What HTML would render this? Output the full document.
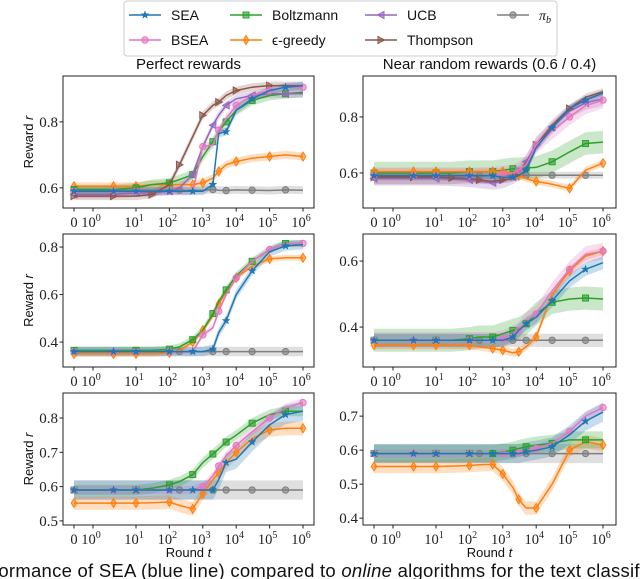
<!DOCTYPE html>
<html><head><meta charset="utf-8">
<style>
body{margin:0;background:#fff;width:640px;height:579px;overflow:hidden;position:relative}
svg{position:absolute;left:0;top:0}
.capwrap{position:absolute;left:0;top:560px;width:640px;height:19px;overflow:hidden}
.cap{position:absolute;left:-7px;top:0;white-space:nowrap;font-family:"Liberation Sans",sans-serif;font-size:18.5px;letter-spacing:0.25px;color:#111}
</style></head>
<body>
<svg id="chart" width="640" height="579"></svg>
<div class="capwrap"><div class="cap">formance of SEA (blue line) compared to <i>online</i> algorithms for the text classification</div></div>
<script>
// x grid (rounds t)
const T = [0,1,3,10,30,100,200,500,1000,2000,3000,5000,1e4,3e4,1e5,3e5,1e6];
const seriesNames = ["SEA","BSEA","Boltzmann","e-greedy","UCB","Thompson","pi_b"];
// Panel 1: perfect rewards, top
const p1_sea  = [0.59,0.59,0.59,0.59,0.59,0.59,0.59,0.59,0.59,0.61,0.765,0.77,0.835,0.87,0.895,0.905,0.91];
const p1_bsea = [0.59,0.59,0.59,0.59,0.59,0.59,0.59,0.59,0.725,0.73,0.775,0.81,0.85,0.88,0.895,0.905,0.905];
const p1_boltz= [0.595,0.595,0.595,0.6,0.61,0.615,0.625,0.64,0.695,0.74,0.77,0.8,0.835,0.865,0.88,0.885,0.89];
const p1_eps  = [0.605,0.605,0.605,0.605,0.61,0.61,0.61,0.61,0.615,0.63,0.65,0.67,0.68,0.69,0.695,0.7,0.695];
const p1_ucb  = [0.58,0.58,0.58,0.585,0.585,0.59,0.6,0.64,0.725,0.79,0.82,0.85,0.87,0.88,0.885,0.885,0.885];
const p1_thom = [0.575,0.575,0.575,0.575,0.58,0.61,0.67,0.755,0.82,0.85,0.86,0.88,0.895,0.905,0.91,0.91,0.91];
const p1_pib  = [0.593,0.593,0.593,0.593,0.593,0.593,0.593,0.593,0.593,0.595,0.593,0.592,0.594,0.593,0.592,0.594,0.593];
// Panel 2: near random, top
const p2_sea  = [0.59,0.59,0.59,0.59,0.59,0.59,0.59,0.59,0.585,0.585,0.59,0.61,0.69,0.76,0.83,0.86,0.885];
const p2_bsea = [0.59,0.59,0.59,0.59,0.59,0.59,0.59,0.592,0.595,0.6,0.61,0.63,0.7,0.75,0.8,0.84,0.86];
const p2_boltz= [0.6,0.6,0.6,0.6,0.6,0.605,0.605,0.605,0.61,0.615,0.615,0.618,0.62,0.64,0.675,0.705,0.71];
const p2_eps  = [0.605,0.605,0.605,0.605,0.605,0.605,0.605,0.605,0.605,0.6,0.59,0.58,0.57,0.56,0.545,0.61,0.635];
const p2_ucb  = [0.58,0.58,0.58,0.58,0.578,0.575,0.57,0.565,0.57,0.585,0.6,0.64,0.7,0.765,0.82,0.85,0.865];
const p2_thom = [0.585,0.585,0.585,0.585,0.583,0.58,0.575,0.57,0.575,0.58,0.6,0.635,0.7,0.77,0.83,0.87,0.89];
const p2_pib  = [0.592,0.592,0.592,0.592,0.592,0.592,0.592,0.592,0.592,0.592,0.592,0.592,0.592,0.592,0.592,0.592,0.592];
// Panel 3: perfect rewards, middle
const p3_sea  = [0.36,0.36,0.36,0.36,0.36,0.36,0.36,0.36,0.36,0.37,0.44,0.49,0.6,0.7,0.78,0.805,0.81];
const p3_bsea = [0.36,0.36,0.36,0.36,0.36,0.36,0.36,0.36,0.43,0.46,0.53,0.6,0.67,0.74,0.79,0.815,0.815];
const p3_boltz= [0.365,0.365,0.365,0.365,0.365,0.37,0.38,0.41,0.45,0.52,0.57,0.62,0.68,0.74,0.79,0.815,0.815];
const p3_eps  = [0.35,0.35,0.35,0.35,0.35,0.355,0.365,0.4,0.45,0.51,0.56,0.61,0.67,0.72,0.75,0.755,0.755];
const p3_pib  = [0.36,0.36,0.36,0.36,0.36,0.36,0.36,0.36,0.36,0.36,0.36,0.36,0.36,0.36,0.36,0.36,0.36];
// Panel 4: near random, middle
const p4_sea  = [0.36,0.36,0.36,0.36,0.36,0.36,0.36,0.36,0.36,0.37,0.39,0.41,0.43,0.48,0.54,0.575,0.595];
const p4_bsea = [0.36,0.36,0.36,0.36,0.36,0.36,0.36,0.36,0.365,0.38,0.39,0.42,0.44,0.51,0.575,0.62,0.63];
const p4_boltz= [0.36,0.36,0.36,0.36,0.36,0.365,0.37,0.37,0.38,0.39,0.395,0.41,0.44,0.475,0.485,0.488,0.485];
const p4_eps  = [0.345,0.345,0.345,0.345,0.345,0.345,0.34,0.335,0.33,0.322,0.325,0.34,0.37,0.5,0.57,0.615,0.63];
const p4_pib  = [0.36,0.36,0.36,0.36,0.36,0.36,0.36,0.36,0.36,0.36,0.36,0.36,0.36,0.36,0.36,0.36,0.36];
// Panel 5: perfect rewards, bottom
const p5_sea  = [0.59,0.59,0.59,0.59,0.59,0.59,0.59,0.59,0.59,0.59,0.62,0.67,0.68,0.73,0.78,0.81,0.82];
const p5_bsea = [0.59,0.59,0.59,0.59,0.59,0.59,0.59,0.59,0.6,0.63,0.66,0.69,0.72,0.76,0.8,0.83,0.845];
const p5_boltz= [0.59,0.59,0.59,0.59,0.595,0.605,0.615,0.635,0.67,0.695,0.71,0.73,0.75,0.785,0.81,0.82,0.82];
const p5_eps  = [0.552,0.552,0.552,0.552,0.553,0.555,0.545,0.535,0.58,0.62,0.64,0.67,0.7,0.74,0.765,0.77,0.77];
const p5_pib  = [0.59,0.59,0.59,0.59,0.59,0.59,0.59,0.59,0.59,0.59,0.59,0.59,0.59,0.59,0.59,0.59,0.59];
// Panel 6: near random, bottom
const p6_sea  = [0.59,0.59,0.59,0.59,0.59,0.59,0.59,0.59,0.59,0.59,0.59,0.595,0.6,0.61,0.645,0.685,0.712];
const p6_bsea = [0.59,0.59,0.59,0.59,0.59,0.59,0.59,0.59,0.59,0.59,0.592,0.598,0.605,0.62,0.655,0.7,0.725];
const p6_boltz= [0.59,0.59,0.59,0.59,0.59,0.59,0.59,0.59,0.595,0.6,0.605,0.61,0.615,0.62,0.63,0.63,0.63];
const p6_eps  = [0.552,0.552,0.552,0.552,0.553,0.555,0.557,0.558,0.53,0.49,0.455,0.43,0.43,0.5,0.6,0.625,0.615];
const p6_pib  = [0.59,0.59,0.59,0.59,0.59,0.59,0.59,0.59,0.59,0.59,0.59,0.59,0.59,0.59,0.59,0.59,0.59];
// y tick labels per panel
const yt1 = [0.6,0.8], yt2 = [0.6,0.8], yt3 = [0.4,0.6,0.8], yt4 = [0.4,0.6], yt5 = [0.5,0.6,0.7,0.8], yt6 = [0.4,0.5,0.6,0.7];
const xtickVals = [0,1,10,100,1000,1e4,1e5,1e6];
const xtickExp  = ["", "0","1","2","3","4","5","6"];

const NS="http://www.w3.org/2000/svg";
const svg=document.getElementById('chart');
function mk(tag,attrs,parent){const e=document.createElementNS(NS,tag);for(const k in attrs)e.setAttribute(k,attrs[k]);(parent||svg).appendChild(e);return e;}

const STY={
 sea:{c:"#1f77b4",m:"star",w:0.012},
 bsea:{c:"#e377c2",m:"circle",w:0.012},
 boltz:{c:"#2ca02c",m:"square",w:0.015},
 eps:{c:"#ff7f0e",m:"diamond",w:0.012},
 ucb:{c:"#9467bd",m:"ltri",w:0.012},
 thom:{c:"#8c564b",m:"rtri",w:0.012},
 pib:{c:"#7f7f7f",m:"circle",w:0.012}
};
const panels=[
 {x0:63,x1:314,y0:76,y1:208,ymin:0.539,ymax:0.939,yt:yt1,title:"Perfect rewards",ylab:true,xlab:false,
  s:{pib:p1_pib,eps:p1_eps,boltz:p1_boltz,ucb:p1_ucb,thom:p1_thom,bsea:p1_bsea,sea:p1_sea},bw:{}},
 {x0:363,x1:616,y0:76,y1:208,ymin:0.475,ymax:0.946,yt:yt2,title:"Near random rewards (0.6 / 0.4)",ylab:false,xlab:false,
  s:{pib:p2_pib,boltz:p2_boltz,eps:p2_eps,ucb:p2_ucb,thom:p2_thom,bsea:p2_bsea,sea:p2_sea},bw:{boltz:0.04,bsea:0.03,ucb:0.025}},
 {x0:63,x1:314,y0:234,y1:367,ymin:0.295,ymax:0.855,yt:yt3,ylab:true,xlab:false,
  s:{pib:p3_pib,eps:p3_eps,boltz:p3_boltz,bsea:p3_bsea,sea:p3_sea},bw:{sea:0.02,pib:0.02}},
 {x0:363,x1:616,y0:234,y1:367,ymin:0.279,ymax:0.682,yt:yt4,ylab:false,xlab:false,
  s:{pib:p4_pib,boltz:p4_boltz,eps:p4_eps,bsea:p4_bsea,sea:p4_sea},bw:{sea:0.02,pib:0.02,boltz:0.035,bsea:0.025}},
 {x0:63,x1:314,y0:393,y1:525,ymin:0.488,ymax:0.873,yt:yt5,ylab:true,xlab:true,
  s:{pib:p5_pib,eps:p5_eps,boltz:p5_boltz,bsea:p5_bsea,sea:p5_sea},bw:{sea:0.028,pib:0.028,eps:0.02}},
 {x0:363,x1:616,y0:393,y1:525,ymin:0.38,ymax:0.768,yt:yt6,ylab:false,xlab:true,
  s:{pib:p6_pib,eps:p6_eps,boltz:p6_boltz,bsea:p6_bsea,sea:p6_sea},bw:{sea:0.028,pib:0.028,eps:0.02,boltz:0.025}}
];
function fx(t){return t<=1?19*t:(t<=10?19+43*Math.log10(t):62+33.4*(Math.log10(t)-1));}
function marker(g,type,x,y,c){
 let e;
 if(type==="circle"){e=mk('circle',{cx:x,cy:y,r:3.2,fill:c,'fill-opacity':0.6,stroke:c},g);}
 else if(type==="square"){e=mk('rect',{x:x-3,y:y-3,width:6,height:6,fill:c,'fill-opacity':0.6,stroke:c},g);}
 else if(type==="diamond"){e=mk('polygon',{points:`${x},${y-4.5} ${x+2.8},${y} ${x},${y+4.5} ${x-2.8},${y}`,fill:c,'fill-opacity':0.6,stroke:c},g);}
 else if(type==="ltri"){e=mk('polygon',{points:`${x-3.5},${y} ${x+3},${y-3.5} ${x+3},${y+3.5}`,fill:c,'fill-opacity':0.6,stroke:c},g);}
 else if(type==="rtri"){e=mk('polygon',{points:`${x+3.5},${y} ${x-3},${y-3.5} ${x-3},${y+3.5}`,fill:c,'fill-opacity':0.6,stroke:c},g);}
 else {let p=[];for(let i=0;i<10;i++){const r=i%2?1.6:4;const a=-Math.PI/2+i*Math.PI/5;p.push((x+r*Math.cos(a)).toFixed(1)+","+(y+r*Math.sin(a)).toFixed(1));}
   e=mk('polygon',{points:p.join(' '),fill:c,stroke:c,'stroke-width':0.5},g);}
 
 
}
const mIdx={sea:[0,2,3,5,7,9,11,13,15],bsea:[0,2,3,5,8,10,12,14,16],boltz:[0,3,5,7,9,11,13,15],eps:[0,2,3,5,7,8,10,12,14,16],ucb:[0,3,5,7,9,11,13,15],thom:[0,2,4,6,8,10,12,14],pib:[0,3,6,9,11,13,15]};

panels.forEach((P,pi)=>{
 const g=mk('g',{});
 
 
 const X=t=>P.x0+11+fx(t);
 const Y=v=>P.y1-(v-P.ymin)/(P.ymax-P.ymin)*(P.y1-P.y0);
 const clip=mk('clipPath',{id:'cp'+pi},g);
 mk('rect',{x:P.x0,y:P.y0,width:P.x1-P.x0,height:P.y1-P.y0},clip);
 const plot=mk('g',{'clip-path':`url(#cp${pi})`},g);
 
 
 for(const k in P.s){const d=P.s[k];const w=P.bw[k]||STY[k].w;
  const up=T.map((t,i)=>X(t).toFixed(1)+","+Y(d[i]+w).toFixed(1));
  const dn=T.map((t,i)=>X(t).toFixed(1)+","+Y(d[i]-w).toFixed(1)).reverse();
  const b=mk('polygon',{points:up.concat(dn).join(' '),fill:STY[k].c,'fill-opacity':0.25,stroke:'none'},plot);
  
  
 }
 for(const k in P.s){const d=P.s[k];
  const l=mk('polyline',{points:T.map((t,i)=>X(t).toFixed(1)+","+Y(d[i]).toFixed(1)).join(' '),fill:'none',stroke:STY[k].c,'stroke-width':1.5},plot);
  
  
  mIdx[k].forEach(i=>marker(plot,STY[k].m,X(T[i]),Y(d[i]),STY[k].c));
 }
 const fr=mk('rect',{x:P.x0,y:P.y0,width:P.x1-P.x0,height:P.y1-P.y0,fill:'none',stroke:'#222','stroke-width':1},g);
 
 
 P.yt.forEach(v=>{const y=Y(v);
  mk('line',{x1:P.x0-3.5,x2:P.x0,y1:y,y2:y,stroke:'#222'},g);
  const t=mk('text',{x:P.x0-5,y:y+5,'text-anchor':'end','font-family':'Liberation Serif, serif','font-size':15,fill:'#222'},g);
  t.textContent=v.toFixed(1);
  
  
 });
 xtickVals.forEach((v,i)=>{const x=X(v);
  mk('line',{x1:x,x2:x,y1:P.y1,y2:P.y1+3.5,stroke:'#222'},g);
  const t=mk('text',{x:i===0?x:x-2,y:P.y1+19,'text-anchor':'middle','font-family':'Liberation Serif, serif','font-size':14.5,fill:'#222'},g);
  
  
  if(i===0){t.textContent="0";}else{t.textContent="10";const s=mk('tspan',{'font-size':10,dy:-6},t);s.textContent=xtickExp[i];}
 });
 if(P.title){const t=mk('text',{x:(P.x0+P.x1)/2,y:P.y0-7,'text-anchor':'middle','font-family':'Liberation Sans, sans-serif','font-size':15,fill:'#111'},g);t.textContent=P.title;
  
  }
 if(P.ylab){const cy=(P.y0+P.y1)/2;const t=mk('text',{x:0,y:0,transform:`translate(33,${cy}) rotate(-90)`,'text-anchor':'middle','font-family':'Liberation Sans, sans-serif','font-size':13,fill:'#111'},g);t.innerHTML='Reward <tspan font-style="italic">r</tspan>';
  
  }
 if(P.xlab){const t=mk('text',{x:(P.x0+P.x1)/2,y:557,'text-anchor':'middle','font-family':'Liberation Sans, sans-serif','font-size':13,fill:'#111'},g);t.innerHTML='Round <tspan font-style="italic">t</tspan>';
  
  }
});

// legend
const lg=mk('g',{});


mk('rect',{x:124,y:1,width:433,height:55,rx:3,fill:'#fff',stroke:'#ccc'},lg);
const legItems=[["sea","SEA",129,15],["bsea","BSEA",129,40],["boltz","Boltzmann",230,15],["eps","ϵ-greedy",230,40],["ucb","UCB",365,15],["thom","Thompson",365,40],["pib","π",497,15]];
legItems.forEach(([k,lab,x,y])=>{
 const e=mk('g',{},lg);
 
 
 mk('line',{x1:x,x2:x+32,y1:y,y2:y,stroke:STY[k].c,'stroke-width':1.5},e);
 marker(e,STY[k].m,x+16,y,STY[k].c);
 const t=mk('text',{x:x+42,y:y+5,'font-family':'Liberation Sans, sans-serif','font-size':14,fill:'#111'},e);
 if(k==='pib'){t.setAttribute('font-family','Liberation Serif, serif');t.setAttribute('font-style','italic');t.innerHTML='π<tspan font-size="10" dy="3">b</tspan>';}
 else t.textContent=lab;
});
</script>
</body></html>
